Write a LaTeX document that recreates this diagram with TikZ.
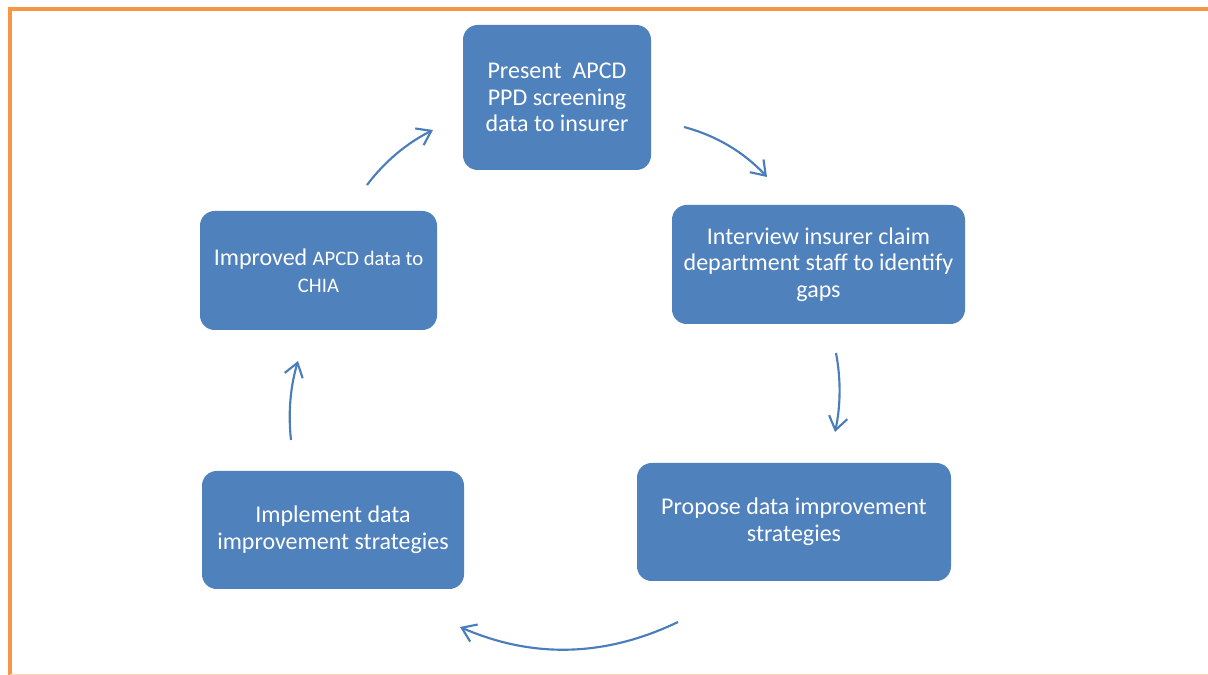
\documentclass[tikz,border=0pt]{standalone}
\usepackage{fontspec}
\setmainfont{Carlito}
\usetikzlibrary{arrows.meta}
\definecolor{boxblue}{HTML}{4F81BD}
\definecolor{arrowblue}{HTML}{4A7EBB}
\definecolor{frameorange}{HTML}{F79646}
\tikzset{
  stepbox/.style={draw=none, fill=boxblue, rounded corners=11pt, text=white,
    align=center, inner sep=0pt, font=\fontsize{18}{19.9}\selectfont},
  cyclearrow/.style={draw=arrowblue, line width=1.6pt,
    -{Straight Barb[length=10pt,width=14pt,line width=1.6pt]}}
}
\begin{document}
\begin{tikzpicture}[x=0.75pt,y=0.75pt]
\useasboundingbox (0,0) rectangle (1208,675);
% frame
\draw[frameorange, line width=3pt] (10,-5) -- (10,665.5) -- (1215,665.5);
\draw[frameorange!40, line width=1pt] (10,0.5) -- (1215,0.5);
% boxes
\node[stepbox, minimum width=141pt, minimum height=108.75pt] (present) at (557,577.5)
  {Present~~APCD\\PPD screening\\data to insurer};
\node[stepbox, minimum width=219.75pt, minimum height=89.25pt] (interview) at (818.5,410.5)
  {Interview insurer claim\\department staff to identify\\gaps};
\node[stepbox, minimum width=235.5pt, minimum height=88.5pt] (propose) at (794,153)
  {Propose data improvement\\strategies};
\node[stepbox, minimum width=196.5pt, minimum height=88.5pt] (implement) at (333,145)
  {Implement data\\improvement strategies};
\node[stepbox, minimum width=177.75pt, minimum height=89.25pt] (improved) at (318.5,404.5)
  {Improved {\fontsize{15.5}{19.5}\selectfont APCD data to}\\{\fontsize{15.5}{19.5}\selectfont CHIA}};
% arrow end points
\coordinate (a1s) at (367,490);  \coordinate (a1e) at (433,545);
\coordinate (a2s) at (684,548);  \coordinate (a2e) at (767,498);
\coordinate (a3s) at (836,322);  \coordinate (a3e) at (835,243);
\coordinate (a4s) at (678,53);   \coordinate (a4e) at (460,48);
\coordinate (a5s) at (291,235);  \coordinate (a5e) at (298,314);
% arrows
\draw[cyclearrow] (a1s) .. controls (384.7,513.5) and (406.7,531.8) .. (a1e);
\draw[cyclearrow] (a2s) .. controls (716.5,539.3) and (744.1,522.7) .. (a2e);
\draw[cyclearrow] (a3s) .. controls (841,295.7) and (840.7,269.3) .. (a3e);
\draw[cyclearrow] (a4s) .. controls (605.3,18) and (532.7,16.3) .. (a4e);
\draw[cyclearrow] (a5s) .. controls (288,261.8) and (290.3,288.1) .. (a5e);
\end{tikzpicture}
\end{document}
